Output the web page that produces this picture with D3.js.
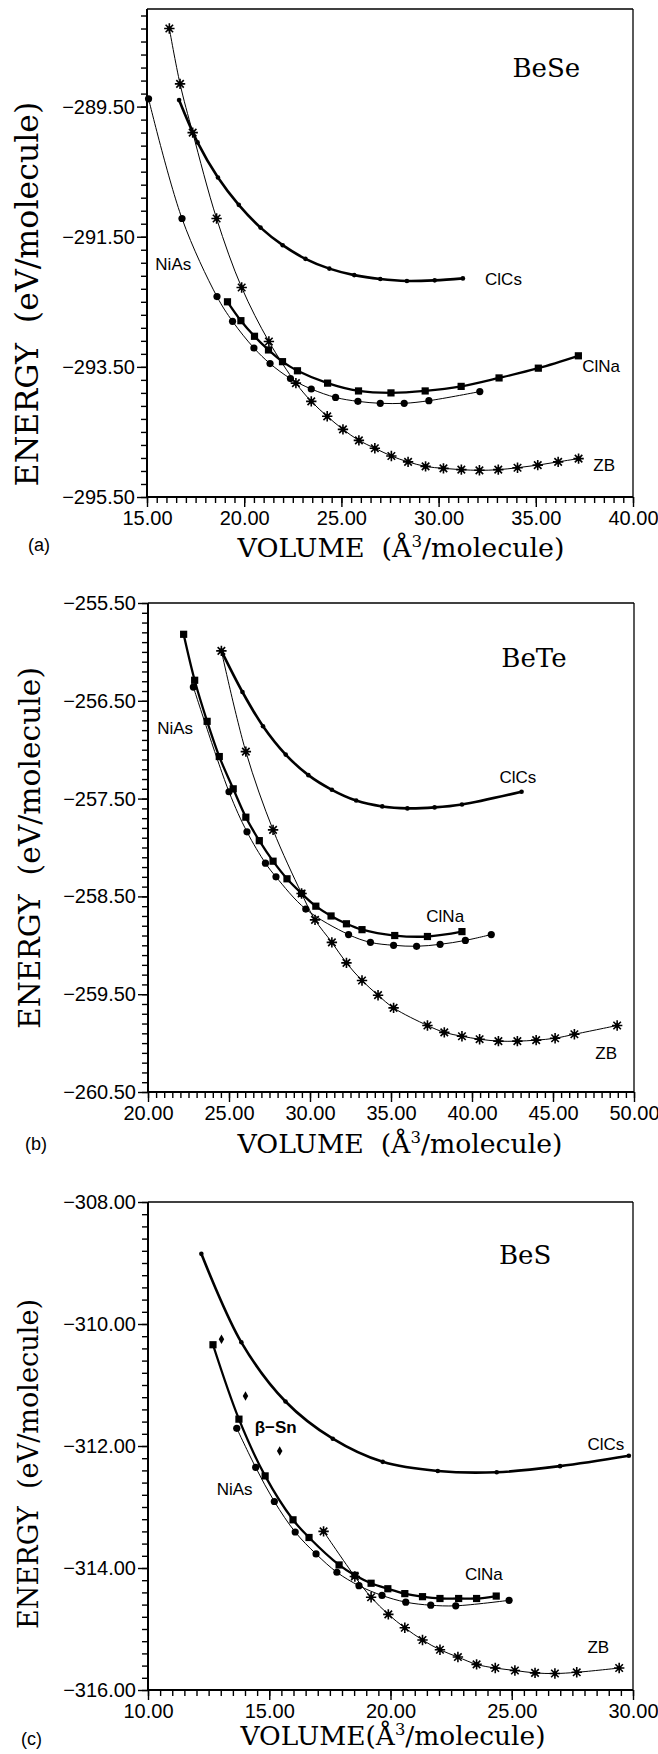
<!DOCTYPE html>
<html>
<head>
<meta charset="utf-8">
<script src="https://cdn.jsdelivr.net/npm/d3@7"></script>
<style>
  body { margin: 0; background: #fff; }
</style>
</head>
<body>
<div id="chart"></div>
<script>
// ---- data (volume in A^3/molecule, energy in eV/molecule) ----

// (a) BeSe
var beseClCsV = [16.65, 17.6, 18.65, 19.72, 20.84, 21.98, 23.15, 24.38, 25.66, 27.0, 28.37, 29.8, 31.25];
var beseClCsE = [-289.4, -290.05, -290.59, -291.01, -291.36, -291.63, -291.84, -291.99, -292.09, -292.15, -292.18, -292.17, -292.14];
var beseClNaV = [19.14, 19.83, 20.53, 21.25, 21.97, 22.74, 24.29, 25.88, 27.55, 29.31, 31.16, 33.11, 35.13, 37.19];
var beseClNaE = [-292.5, -292.79, -293.03, -293.24, -293.42, -293.56, -293.75, -293.87, -293.9, -293.87, -293.8, -293.67, -293.52, -293.33];
var beseNiAsV = [15.08, 16.8, 18.6, 19.4, 20.5, 21.33, 22.38, 23.45, 24.7, 25.85, 27.0, 28.23, 29.5, 32.12];
var beseNiAsE = [-289.38, -291.22, -292.42, -292.8, -293.21, -293.45, -293.68, -293.84, -293.97, -294.03, -294.06, -294.06, -294.02, -293.88];
var beseZBV = [16.15, 16.7, 17.35, 18.58, 19.87, 21.27, 22.66, 23.45, 24.27, 25.08, 25.9, 26.72, 27.57, 28.43, 29.33, 30.25, 31.17, 32.1, 33.07, 34.06, 35.1, 36.15, 37.2];
var beseZBE = [-288.3, -289.15, -289.9, -291.22, -292.28, -293.11, -293.75, -294.03, -294.26, -294.46, -294.63, -294.75, -294.87, -294.96, -295.03, -295.06, -295.08, -295.09, -295.08, -295.05, -295.01, -294.96, -294.91];

// (b) BeTe
var beteClCsV = [24.53, 25.83, 27.1, 28.5, 29.9, 31.35, 32.85, 34.46, 36.01, 37.69, 39.38, 43.06];
var beteClCsE = [-255.99, -256.41, -256.76, -257.05, -257.26, -257.41, -257.52, -257.58, -257.6, -257.59, -257.56, -257.43];
var beteClNaV = [22.2, 22.88, 23.65, 24.4, 25.26, 26.04, 26.87, 27.72, 28.58, 29.48, 30.36, 31.3, 32.25, 33.21, 35.23, 37.25, 39.38];
var beteClNaE = [-255.82, -256.29, -256.71, -257.07, -257.4, -257.69, -257.93, -258.14, -258.32, -258.47, -258.6, -258.7, -258.78, -258.84, -258.9, -258.91, -258.86];
var beteNiAsV = [22.8, 25.0, 26.11, 27.25, 27.9, 29.74, 32.38, 33.73, 35.16, 36.58, 38.03, 39.59, 41.19];
var beteNiAsE = [-256.36, -257.43, -257.84, -258.16, -258.3, -258.63, -258.89, -258.97, -259.0, -259.01, -258.99, -258.95, -258.89];
var beteZBV = [24.53, 26.04, 27.72, 29.48, 30.31, 31.35, 32.25, 33.21, 34.2, 35.16, 37.25, 38.29, 39.38, 40.47, 41.63, 42.8, 43.96, 45.13, 46.32, 48.96];
var beteZBE = [-255.99, -257.02, -257.82, -258.47, -258.74, -258.97, -259.18, -259.36, -259.51, -259.64, -259.82, -259.89, -259.93, -259.96, -259.98, -259.98, -259.97, -259.95, -259.91, -259.82];

// (c) BeS
var besClCsV = [12.2, 13.85, 15.67, 17.62, 19.68, 21.95, 24.38, 26.99, 29.83];
var besClCsE = [-308.85, -310.3, -311.27, -311.88, -312.26, -312.41, -312.43, -312.33, -312.16];
var besClNaV = [12.68, 13.75, 14.83, 15.98, 16.64, 17.88, 18.53, 19.2, 19.89, 20.59, 21.32, 22.04, 22.81, 23.55, 24.36];
var besClNaE = [-310.34, -311.56, -312.49, -313.21, -313.5, -313.95, -314.12, -314.25, -314.34, -314.42, -314.47, -314.5, -314.5, -314.5, -314.46];
var besNiAsV = [13.66, 14.44, 15.21, 16.07, 16.93, 17.79, 18.7, 19.65, 20.63, 21.66, 22.69, 24.89];
var besNiAsE = [-311.71, -312.35, -312.91, -313.41, -313.77, -314.07, -314.29, -314.45, -314.56, -314.61, -314.62, -314.53];
var besZBV = [17.24, 18.53, 19.2, 19.91, 20.59, 21.32, 22.04, 22.78, 23.55, 24.32, 25.13, 25.96, 26.78, 27.68, 29.43];
var besZBE = [-313.4, -314.14, -314.48, -314.76, -314.98, -315.18, -315.34, -315.46, -315.58, -315.64, -315.68, -315.72, -315.73, -315.71, -315.64];
var besBetaSnV = [13.03, 14.02, 15.43];
var besBetaSnE = [-310.25, -311.18, -312.08];

// axis ranges
var beseXDomain = [15, 40], beseYDomain = [-295.5, -288.0];
var beteXDomain = [20, 50], beteYDomain = [-260.5, -255.5];
var besXDomain = [10, 30], besYDomain = [-316, -308];

var zip = function(a, b) { return a.map(function(v, i) { return [v, b[i]]; }); };

// ---- page ----
var svgWidth = 658, svgHeight = 1754;
var svg = d3.select("#chart").append("svg")
  .attr("width", svgWidth)
  .attr("height", svgHeight);

var sansFont = "'Liberation Sans', Arial, sans-serif";
var serifFont = "'DejaVu Serif', 'Liberation Serif', serif";

// panel boxes + labels placed in data coords
var panels = [
  {
    letter: "(a)", letterX: 28, letterY: 551,
    name: "BeSe", nameAt: [33.8, -289.04],
    left: 147, right: 633, top: 9, bottom: 497,
    xDom: beseXDomain, yDom: beseYDomain, xMajor: 5, yMajor: 2, yMinor: 0.2,
    xTitle: "VOLUME  (Å", xTitleCenter: 401, xTitleY: 557, xTitleW: 327,
    yTitleX: 38, yTitleCenter: 294, yTitleW: 385,
    series: [
      {pts: zip(beseClCsV, beseClCsE), width: 2.6, mark: "smalldot", label: "ClCs", at: [32.39, -292.24]},
      {pts: zip(beseClNaV, beseClNaE), width: 2.3, mark: "square", label: "ClNa", at: [37.39, -293.58]},
      {pts: zip(beseNiAsV, beseNiAsE), width: 1, mark: "dot", label: "NiAs", at: [15.43, -292.01]},
      {pts: zip(beseZBV, beseZBE), width: 1, mark: "star", label: "ZB", at: [37.96, -295.1]}
    ]
  },
  {
    letter: "(b)", letterX: 25, letterY: 1150,
    name: "BeTe", nameAt: [41.81, -256.15],
    left: 148, right: 634, top: 603, bottom: 1092,
    xDom: beteXDomain, yDom: beteYDomain, xMajor: 5, yMajor: 1, yMinor: 0.1,
    xTitle: "VOLUME  (Å", xTitleCenter: 400, xTitleY: 1153, xTitleW: 325,
    yTitleX: 40, yTitleCenter: 848, yTitleW: 362,
    series: [
      {pts: zip(beteClCsV, beteClCsE), width: 2.6, mark: "smalldot", label: "ClCs", at: [41.69, -257.34]},
      {pts: zip(beteClNaV, beteClNaE), width: 2.3, mark: "square", label: "ClNa", at: [37.18, -258.76]},
      {pts: zip(beteNiAsV, beteNiAsE), width: 1, mark: "dot", label: "NiAs", at: [20.57, -256.84]},
      {pts: zip(beteZBV, beteZBE), width: 1, mark: "star", label: "ZB", at: [47.61, -260.16]}
    ]
  },
  {
    letter: "(c)", letterX: 21, letterY: 1745,
    name: "BeS", nameAt: [24.47, -309.02],
    left: 148, right: 633, top: 1202, bottom: 1690,
    xDom: besXDomain, yDom: besYDomain, xMajor: 5, yMajor: 2, yMinor: 0.2,
    xTitle: "VOLUME(Å", xTitleCenter: 393, xTitleY: 1745, xTitleW: 305,
    yTitleX: 38, yTitleCenter: 1464, yTitleW: 330,
    series: [
      {pts: zip(besClCsV, besClCsE), width: 2.6, mark: "smalldot", label: "ClCs", at: [28.12, -312.07]},
      {pts: zip(besClNaV, besClNaE), width: 2.3, mark: "square", label: "ClNa", at: [23.07, -314.2]},
      {pts: zip(besNiAsV, besNiAsE), width: 1, mark: "dot", label: "NiAs", at: [12.83, -312.8]},
      {pts: zip(besZBV, besZBE), width: 1, mark: "star", label: "ZB", at: [28.12, -315.4]},
      {pts: zip(besBetaSnV, besBetaSnE), width: 0, mark: "diamond", label: "β\u2212Sn", at: [14.4, -311.79], bold: true}
    ]
  }
];

// steps counted by index so floats do not drift, never past hi
function stepsFrom(lo, hi, step) {
  var n = Math.floor((hi - lo) / step + 1e-6);
  return d3.range(0, n + 1).map(function(i) { return +(lo + i * step).toFixed(4); });
}

// scale font so a text element spans a given width
function fitWidth(sel, target) {
  var fs = parseFloat(sel.attr("font-size"));
  var w = sel.node().getComputedTextLength();
  if (w > 0) sel.attr("font-size", (fs * target / w).toFixed(2));
}

function drawMarks(g, pts, kind, x, y) {
  var m = g.selectAll(null).data(pts).enter();
  if (kind === "smalldot") {
    m.append("circle").attr("cx", d => x(d[0])).attr("cy", d => y(d[1])).attr("r", 2.3).attr("fill", "#000");
  } else if (kind === "dot") {
    m.append("circle").attr("cx", d => x(d[0])).attr("cy", d => y(d[1])).attr("r", 3.6).attr("fill", "#000");
  } else if (kind === "square") {
    m.append("rect").attr("x", d => x(d[0]) - 3.6).attr("y", d => y(d[1]) - 3.6)
      .attr("width", 7.2).attr("height", 7.2).attr("fill", "#000");
  } else if (kind === "diamond") {
    m.append("path").attr("d", d3.symbol(d3.symbolDiamond, 26))
      .attr("transform", d => "translate(" + x(d[0]) + "," + y(d[1]) + ")").attr("fill", "#000");
  } else if (kind === "star") {
    var s = 5.2, k = s * 0.72;
    var path = "M" + (-s) + ",0L" + s + ",0M0," + (-s) + "L0," + s +
      "M" + (-k) + "," + (-k) + "L" + k + "," + k + "M" + (-k) + "," + k + "L" + k + "," + (-k);
    var st = m.append("g").attr("transform", d => "translate(" + x(d[0]) + "," + y(d[1]) + ")");
    st.append("path").attr("d", path).attr("stroke", "#000").attr("stroke-width", 1.6).attr("fill", "none");
    st.append("circle").attr("r", 2.3).attr("fill", "#000");
  }
}

panels.forEach(function(p) {
  var x = d3.scaleLinear().domain(p.xDom).range([p.left, p.right]);
  var y = d3.scaleLinear().domain(p.yDom).range([p.bottom, p.top]);
  var g = svg.append("g");

  // ticks: minor then labelled major
  var xMinorTicks = stepsFrom(p.xDom[0], p.xDom[1], 0.5);
  var xMajorTicks = stepsFrom(p.xDom[0], p.xDom[1], p.xMajor);
  var yMinorTicks = stepsFrom(p.yDom[0], p.yDom[1], p.yMinor);
  var yMajorTicks = stepsFrom(p.yDom[0], p.yDom[1], p.yMajor);

  var fmt = d3.format(".2f");

  g.append("g").attr("transform", "translate(0," + p.bottom + ")")
    .call(d3.axisBottom(x).tickValues(xMinorTicks).tickSize(6).tickFormat(""));
  g.append("g").attr("transform", "translate(0," + p.bottom + ")")
    .call(d3.axisBottom(x).tickValues(xMajorTicks).tickSize(10).tickPadding(4).tickFormat(fmt))
    .attr("font-size", 20).attr("font-family", sansFont);
  g.append("g").attr("transform", "translate(" + p.left + ",0)")
    .call(d3.axisLeft(y).tickValues(yMinorTicks).tickSize(6).tickFormat(""));
  g.append("g").attr("transform", "translate(" + p.left + ",0)")
    .call(d3.axisLeft(y).tickValues(yMajorTicks).tickSize(10).tickPadding(2).tickFormat(fmt))
    .attr("font-size", 20).attr("font-family", sansFont);

  g.selectAll(".domain").remove();
  g.selectAll(".tick line").attr("stroke", "#000").attr("stroke-width", 1.4);
  g.selectAll(".tick text").attr("fill", "#000");

  // frame: heavier on the two axes
  g.append("line").attr("x1", p.left).attr("x2", p.right).attr("y1", p.top).attr("y2", p.top)
    .attr("stroke", "#000").attr("stroke-width", 1.3);
  g.append("line").attr("x1", p.right).attr("x2", p.right).attr("y1", p.top).attr("y2", p.bottom)
    .attr("stroke", "#000").attr("stroke-width", 1.3);
  g.append("line").attr("x1", p.left).attr("x2", p.right).attr("y1", p.bottom).attr("y2", p.bottom)
    .attr("stroke", "#000").attr("stroke-width", 2);
  g.append("line").attr("x1", p.left).attr("x2", p.left).attr("y1", p.top).attr("y2", p.bottom)
    .attr("stroke", "#000").attr("stroke-width", 2);

  // curves and their markers
  var line = d3.line().x(d => x(d[0])).y(d => y(d[1])).curve(d3.curveCatmullRom.alpha(0.5));
  p.series.forEach(function(s) {
    if (s.width > 0) {
      g.append("path").datum(s.pts).attr("d", line)
        .attr("fill", "none").attr("stroke", "#000").attr("stroke-width", s.width);
    }
    drawMarks(g, s.pts, s.mark, x, y);
    g.append("text").attr("x", x(s.at[0])).attr("y", y(s.at[1]))
      .attr("font-family", sansFont).attr("font-size", 17)
      .attr("font-weight", s.bold ? "bold" : "normal")
      .text(s.label);
  });

  // compound name
  g.append("text").attr("x", x(p.nameAt[0])).attr("y", y(p.nameAt[1]))
    .attr("font-family", serifFont).attr("font-size", 26).text(p.name);

  // panel letter
  g.append("text").attr("x", p.letterX).attr("y", p.letterY)
    .attr("font-family", sansFont).attr("font-size", 18).text(p.letter);

  // x title with superscript 3
  var xt = g.append("text").attr("x", p.xTitleCenter).attr("y", p.xTitleY)
    .attr("text-anchor", "middle").attr("font-family", serifFont).attr("font-size", 26)
    .attr("xml:space", "preserve");
  xt.append("tspan").text(p.xTitle);
  xt.append("tspan").attr("dy", -10).attr("font-size", "0.62em").text("3");
  xt.append("tspan").attr("dy", 10).text("/molecule)");
  fitWidth(xt, p.xTitleW);

  // y title
  var yt = g.append("text")
    .attr("transform", "translate(" + p.yTitleX + "," + p.yTitleCenter + ") rotate(-90)")
    .attr("text-anchor", "middle").attr("font-family", serifFont).attr("font-size", 28)
    .attr("xml:space", "preserve")
    .text("ENERGY  (eV/molecule)");
  fitWidth(yt, p.yTitleW);
});
</script>
</body>
</html>
